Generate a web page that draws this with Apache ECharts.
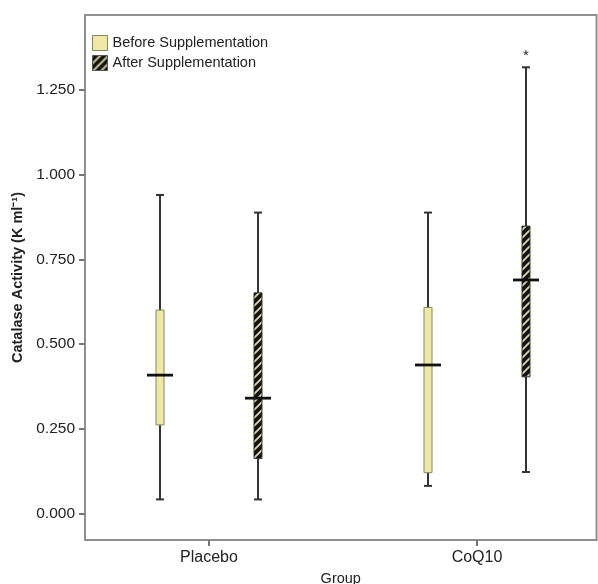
<!DOCTYPE html>
<html><head><meta charset="utf-8">
<script src="https://cdn.jsdelivr.net/npm/echarts@6/dist/echarts.min.js"></script>
<style>html,body{margin:0;padding:0;background:#fff}#c{width:598px;height:584px}</style>
</head><body><div id="c"></div>
<script>
const categories = ['Placebo', 'CoQ10'];
const seriesNames = ['Before Supplementation', 'After Supplementation'];
// each row: [min, Q1, median, Q3, max]
const beforeStats = [[0.041, 0.261, 0.408, 0.600, 0.940], [0.081, 0.120, 0.438, 0.608, 0.888]];
const afterStats = [[0.041, 0.162, 0.340, 0.651, 0.888], [0.122, 0.403, 0.689, 0.848, 1.317]];
// extreme value: [category index, value]
const afterOutliers = [[1, 1.36]];
const yTicks = [0, 0.25, 0.5, 0.75, 1.0, 1.25];

const FONT = '"Liberation Sans", Arial, Helvetica, sans-serif';
const AXIS_GRAY = '#8f8f8f';
const OFFSET = 49 / 268;

function makeStripe() {
  const c = document.createElement('canvas'); c.width = 8; c.height = 8;
  const g = c.getContext('2d');
  g.fillStyle = '#141414'; g.fillRect(0, 0, 8, 8);
  g.strokeStyle = '#e0dba2'; g.lineWidth = 1.8;
  g.beginPath();
  g.moveTo(-2, 10); g.lineTo(10, -2);
  g.moveTo(-2, 2); g.lineTo(2, -2);
  g.moveTo(6, 10); g.lineTo(10, 6);
  g.stroke();
  return c;
}
const stripe = { image: makeStripe(), repeat: 'repeat' };
const beforeFill = '#efe9a6';

function toData(stats) { return stats.map((s, i) => [i].concat(s)); }

function makeRender(offset, fill, stroke) {
  return function (params, api) {
    const cat = api.value(0);
    const x = api.coord([cat + offset, 0])[0];
    const y = [1, 2, 3, 4, 5].map(i => api.coord([cat + offset, api.value(i)])[1]);
    const bw = 4, mw = 13, cw = 4;
    return { type: 'group', children: [
      { type: 'line', shape: { x1: x, y1: y[0], x2: x, y2: y[4] }, style: { stroke: '#333', lineWidth: 2 } },
      { type: 'line', shape: { x1: x - cw, y1: y[0], x2: x + cw, y2: y[0] }, style: { stroke: '#333', lineWidth: 2 } },
      { type: 'line', shape: { x1: x - cw, y1: y[4], x2: x + cw, y2: y[4] }, style: { stroke: '#333', lineWidth: 2 } },
      { type: 'rect', shape: { x: x - bw, y: y[3], width: 2 * bw, height: y[1] - y[3] }, style: { fill: fill, stroke: stroke, lineWidth: 1 } },
      { type: 'line', shape: { x1: x - mw, y1: y[2], x2: x + mw, y2: y[2] }, style: { stroke: '#111', lineWidth: 2.8 } }
    ] };
  };
}

const chart = echarts.init(document.getElementById('c'), null, { renderer: 'canvas' });
chart.setOption({
  animation: false,
  backgroundColor: '#fff',
  textStyle: { fontFamily: FONT },
  grid: { left: 85, right: 1.5, top: 15, bottom: 44, show: true, borderColor: AXIS_GRAY, borderWidth: 2, backgroundColor: '#fff',
    containLabel: false, outerBoundsMode: 'none' },
  legend: {
    orient: 'vertical', left: 92, top: 35, padding: 0, itemWidth: 15, itemHeight: 15, itemGap: 4, icon: 'rect', selectedMode: false,
    textStyle: { fontFamily: FONT, fontSize: 14.5, color: '#222' },
    data: [
      { name: seriesNames[0], itemStyle: { color: beforeFill, borderColor: '#8a8560', borderWidth: 1 } },
      { name: seriesNames[1], itemStyle: { color: stripe, borderColor: '#555', borderWidth: 1 } }
    ]
  },
  xAxis: {
    type: 'value', min: -0.4627, max: 1.4459,
    name: 'Group', nameLocation: 'middle', nameGap: 31,
    nameTextStyle: { fontFamily: FONT, fontSize: 14.5, color: '#222' },
    axisLine: { show: true, onZero: false, lineStyle: { color: AXIS_GRAY, width: 2 } },
    axisTick: { show: true, customValues: [0, 1], length: 6, lineStyle: { color: '#777', width: 2 } },
    axisLabel: { customValues: [0, 1], formatter: v => categories[Math.round(v)], fontFamily: FONT, fontSize: 16, color: '#222', margin: 10 },
    splitLine: { show: false }
  },
  yAxis: {
    type: 'value', min: -0.0788, max: 1.4714,
    name: 'Catalase Activity (K ml\u207B\u00B9)', nameLocation: 'middle', nameGap: 54,
    nameTextStyle: { fontFamily: FONT, fontSize: 14.5, fontWeight: 'bold', color: '#222' },
    axisLine: { show: true, onZero: false, lineStyle: { color: AXIS_GRAY, width: 2 } },
    axisTick: { show: true, customValues: yTicks, length: 6, lineStyle: { color: '#777', width: 2 } },
    axisLabel: { customValues: yTicks, formatter: v => v.toFixed(3), fontFamily: FONT, fontSize: 15.5, color: '#222', margin: 10 },
    splitLine: { show: false }
  },
  series: [
    { name: seriesNames[0], type: 'custom', data: toData(beforeStats), itemStyle: { color: beforeFill, borderColor: '#8a8560' },
      encode: { x: 0, y: [1, 2, 3, 4, 5] }, renderItem: makeRender(-OFFSET, beforeFill, '#8a8560') },
    { name: seriesNames[1], type: 'custom', data: toData(afterStats), itemStyle: { color: stripe, borderColor: '#555' },
      encode: { x: 0, y: [1, 2, 3, 4, 5] }, renderItem: makeRender(OFFSET, stripe, '#333') },
    { name: 'extreme', type: 'custom', data: afterOutliers, encode: { x: 0, y: 1 },
      renderItem: function (params, api) {
        const p = api.coord([api.value(0) + OFFSET, api.value(1)]);
        return { type: 'text', x: p[0], y: p[1] + 3, style: { text: '*', fill: '#222', fontSize: 15, fontFamily: FONT, align: 'center', verticalAlign: 'middle' } };
      } }
  ]
});
</script></body></html>
